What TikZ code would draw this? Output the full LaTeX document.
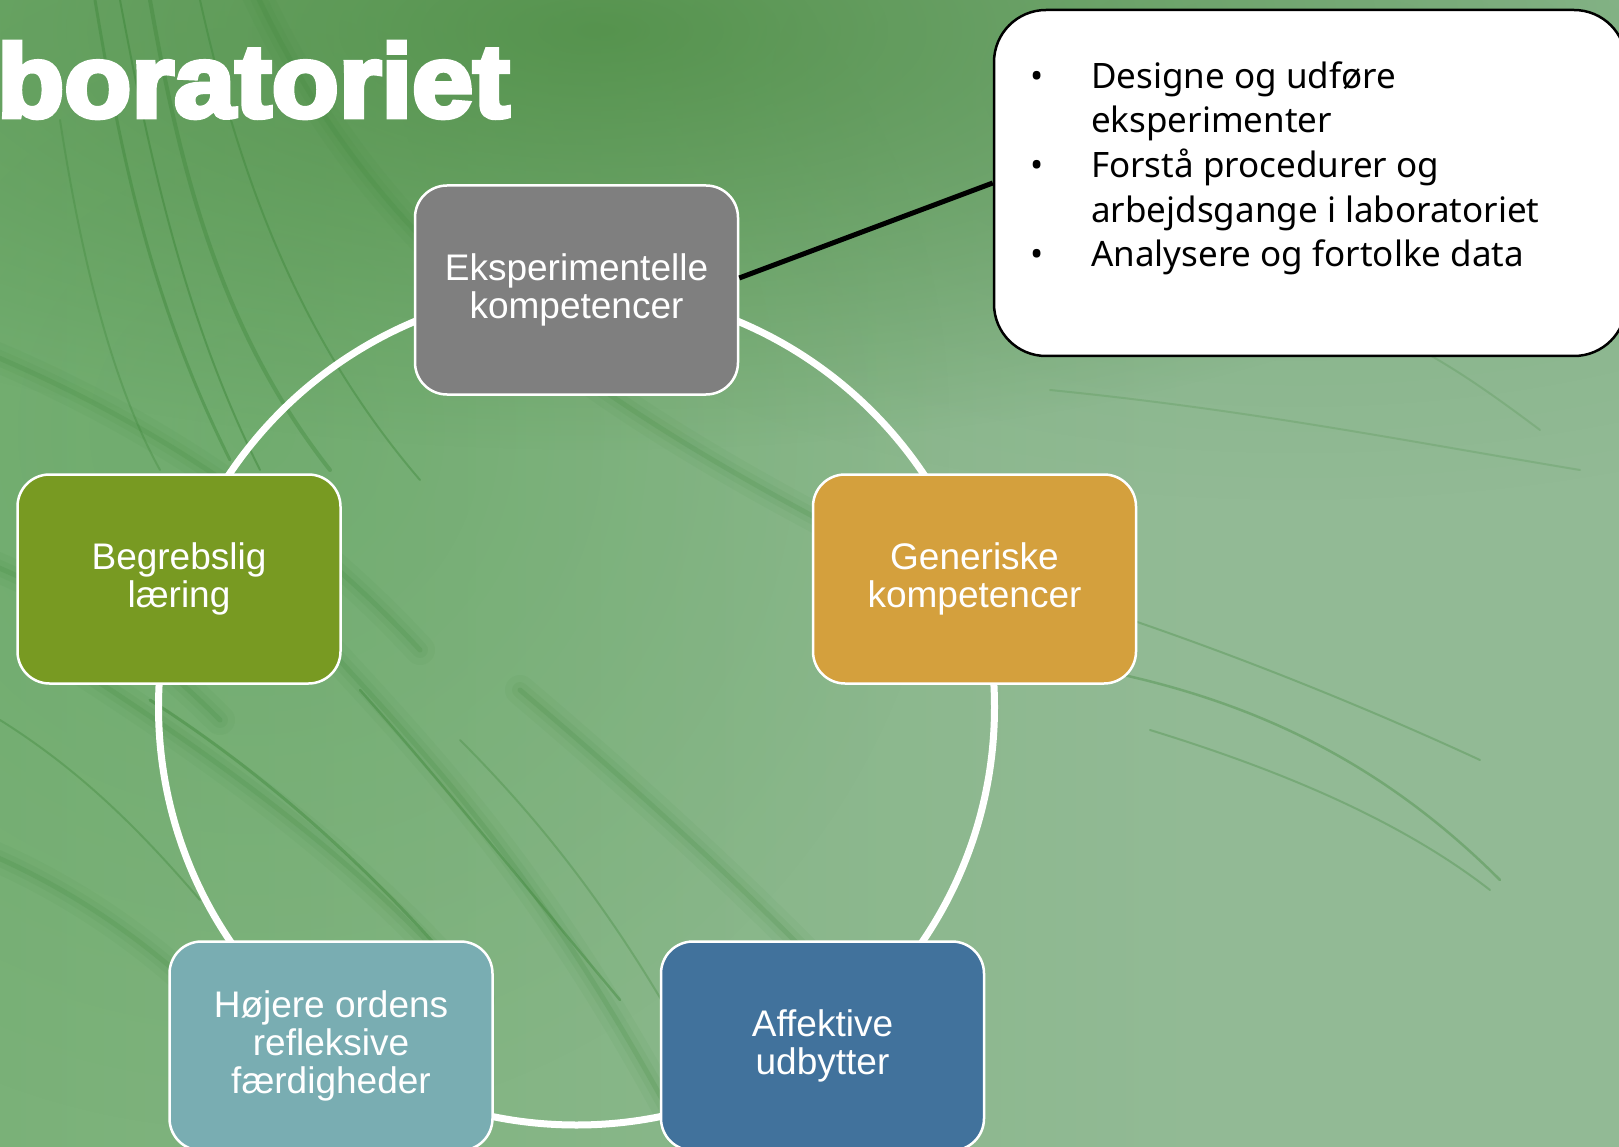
\documentclass[tikz,border=0pt]{standalone}
\usepackage{graphicx}
\usepackage{fontspec}
\setmainfont{Liberation Sans}
\newfontfamily\notosans{Noto Sans}
\newfontfamily\titlefont[FakeBold=4.5]{Liberation Sans Bold}
\usetikzlibrary{fadings}
\definecolor{bgbase}{HTML}{92BA95}
\definecolor{bgleft}{HTML}{7AB178}
\definecolor{bgdark}{HTML}{4C8C42}
\definecolor{bgmid}{HTML}{62A55F}
\definecolor{bgtr}{HTML}{74AB77}
\definecolor{bladegreen}{HTML}{3A8436}
\definecolor{cgray}{HTML}{7F7F7F}
\definecolor{colive}{HTML}{789A22}
\definecolor{cgold}{HTML}{D4A03D}
\definecolor{cteal}{HTML}{79ADB2}
\definecolor{cblue}{HTML}{41729C}
\tikzfading[name=softblob, inner color=transparent!0, outer color=transparent!100]
\newcommand\softblade[1]{%
  \draw[blade, line width=30pt, opacity=.06] #1;
  \draw[blade, line width=16pt, opacity=.08] #1;
  \draw[blade, line width=5pt, opacity=.16] #1;}
\begin{document}
\begin{tikzpicture}[x=1pt,y=-1pt,
  stagebox/.style={rounded corners=32pt, draw=white, line width=2.5pt,
    minimum width=323pt, minimum height=209pt, inner sep=0pt, align=center,
    text=white, font=\fontsize{37}{38}\selectfont},
  ring/.style={draw=white, line width=7pt},
  blade/.style={draw=bladegreen, line cap=round},
  calloutbox/.style={draw=black, line width=2.5pt, fill=white, rounded corners=52pt,
    minimum width=632pt, minimum height=346pt, inner sep=0pt},
  link/.style={draw=black, line width=5pt}]
\path[use as bounding box] (0,0) rectangle (1619,1147);
\clip (0,0) rectangle (1619,1147);
% background
\fill[bgbase] (0,0) rectangle (1619,1147);
\shade[left color=bgleft, right color=bgbase] (0,0) rectangle (1200,1147);
\fill[bgtr, opacity=.6, path fading=softblob] (1300,80) ellipse [x radius=900pt, y radius=420pt];
\fill[bgmid, opacity=.5, path fading=softblob] (250,430) ellipse [x radius=700pt, y radius=700pt];
\fill[bgdark, opacity=.8, path fading=softblob] (600,30) ellipse [x radius=1100pt, y radius=420pt];
% grass streaks, upper left
\draw[blade, line width=3pt, opacity=.4] (95,0) .. controls (120,150) and (150,300) .. (230,460);
\draw[blade, line width=2pt, opacity=.45] (120,0) .. controls (150,160) and (185,320) .. (260,470);
\draw[blade, line width=4pt, opacity=.35] (150,0) .. controls (180,170) and (220,330) .. (330,470);
\draw[blade, line width=2pt, opacity=.4] (200,0) .. controls (240,180) and (300,340) .. (420,480);
\draw[blade, line width=2pt, opacity=.3] (60,120) .. controls (80,250) and (110,380) .. (160,470);
\softblade{(250,-20) .. controls (350,200) and (500,350) .. (820,520)}
\softblade{(-20,350) .. controls (150,420) and (300,520) .. (420,650)}
\softblade{(80,670) .. controls (250,780) and (380,880) .. (480,1000)}
\softblade{(330,650) .. controls (450,780) and (560,900) .. (700,1170)}
\softblade{(520,690) .. controls (650,800) and (780,920) .. (900,1050)}
\softblade{(-20,850) .. controls (100,900) and (200,980) .. (280,1080)}
\softblade{(-20,560) .. controls (80,600) and (150,650) .. (220,720)}
% thin streaks lower left
\draw[blade, line width=3pt, opacity=.4] (150,700) .. controls (260,770) and (360,860) .. (440,950);
\draw[blade, line width=2.5pt, opacity=.4] (360,690) .. controls (440,780) and (520,880) .. (620,1000);
\draw[blade, line width=2pt, opacity=.35] (0,720) .. controls (80,770) and (140,830) .. (200,900);
\draw[blade, line width=2pt, opacity=.3] (460,740) .. controls (560,840) and (650,960) .. (740,1147);
% thin streaks right
\draw[blade, line width=2pt, opacity=.3] (1040,590) .. controls (1200,640) and (1350,700) .. (1480,760);
\draw[blade, line width=2.5pt, opacity=.35] (1100,670) .. controls (1250,700) and (1380,760) .. (1500,880);
\draw[blade, line width=2pt, opacity=.3] (1150,730) .. controls (1280,770) and (1400,820) .. (1490,890);
\draw[blade, line width=2pt, opacity=.2] (1050,390) .. controls (1250,410) and (1400,440) .. (1580,470);
\draw[blade, line width=2pt, opacity=.2] (1300,300) .. controls (1400,330) and (1460,370) .. (1540,430);
% title
\node[anchor=base west, inner sep=0pt, text=white] (title) at (-3,117)
  {\resizebox{512pt}{75pt}{\titlefont boratoriet}};
% cycle
\draw[ring] (576.5,707) circle [radius=418pt];
\node[stagebox, fill=cgray] (eks) at (576.5,290) {Eksperimentelle\\kompetencer};
\node[stagebox, fill=cgold] (gen) at (974.5,579) {Generiske\\kompetencer};
\node[stagebox, fill=cblue] (aff) at (822.5,1046) {Affektive\\udbytter};
\node[stagebox, fill=cteal] (hoj) at (331,1046) {Højere ordens\\refleksive\\færdigheder};
\node[stagebox, fill=colive] (beg) at (179,579) {Begrebslig\\læring};
% callout
\node[calloutbox] (callout) at (1310,183) {};
\draw[link] ([yshift=12pt]eks.east) -- (callout.west);
\node[anchor=north west, inner sep=0pt, align=left,
  font=\notosans\fontsize{35}{44.7}\selectfont] (bullets) at (1030,56.7)
  {\begin{tabular}{@{}l@{}l@{}}
   \makebox[61pt][l]{•} & Designe og udføre\\
    & eksperimenter\\
   \makebox[61pt][l]{•} & Forstå procedurer og\\
    & arbejdsgange i laboratoriet\\
   \makebox[61pt][l]{•} & Analysere og fortolke data
   \end{tabular}};
\end{tikzpicture}
\end{document}
